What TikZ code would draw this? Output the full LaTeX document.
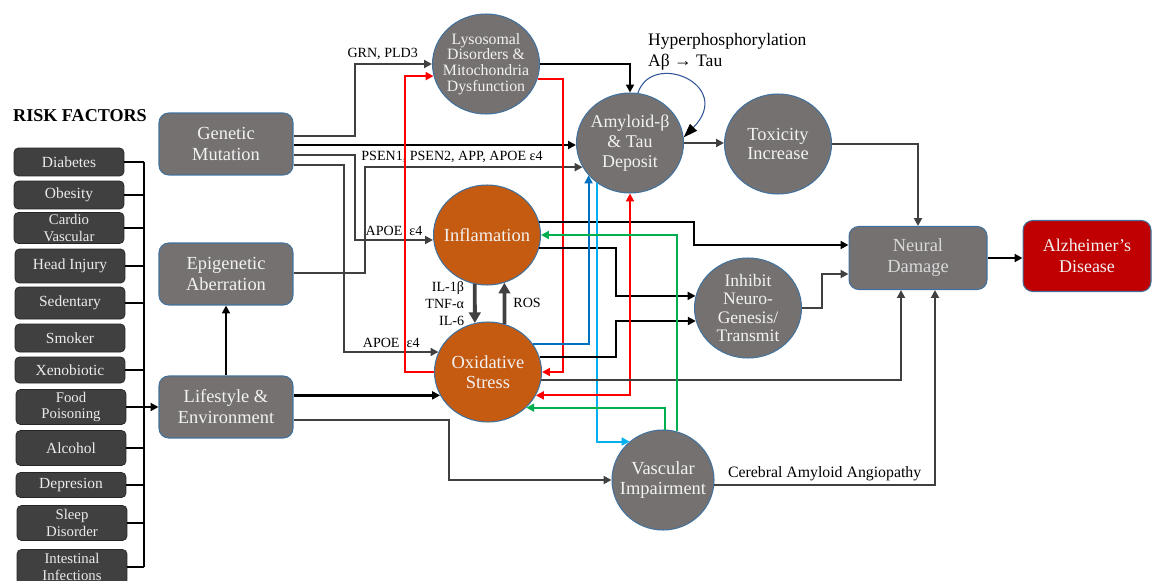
\documentclass[tikz,border=0pt]{standalone}
\usepackage{fontspec}
\setmainfont{Liberation Serif}
\usetikzlibrary{arrows.meta, calc, shapes.geometric}

\definecolor{boxgray}{RGB}{118,113,113}
\definecolor{riskgray}{RGB}{64,64,64}
\definecolor{edgeblue}{RGB}{65,113,156}
\definecolor{rust}{RGB}{197,90,17}
\definecolor{alzred}{RGB}{192,0,0}
\definecolor{linegray}{RGB}{64,64,64}
\definecolor{brightred}{RGB}{255,0,0}
\definecolor{leafgreen}{RGB}{0,176,80}
\definecolor{deepblue}{RGB}{0,112,192}
\definecolor{skyblue}{RGB}{0,176,240}
\definecolor{loopblue}{RGB}{47,85,151}

\begin{document}
\begin{tikzpicture}[x=0.02cm, y=-0.02cm,
    >={Triangle[length=4.5pt,width=4.5pt]},
    mainbox/.style={draw=edgeblue, line width=0.6pt, fill=boxgray, rounded corners=5.5pt,
        text=white!95!black, align=center, minimum width=2.68cm, minimum height=1.24cm,
        font=\fontsize{10.5}{12}\selectfont},
    blob/.style={ellipse, draw=edgeblue, line width=0.6pt, fill=boxgray, text=white!95!black,
        align=center, inner sep=-8pt, minimum width=2.14cm, minimum height=2cm,
        font=\fontsize{10.5}{11.3}\selectfont},
    risk/.style={draw=black!85, fill=riskgray, rounded corners=2.5pt, text=white!92!black,
        align=center, minimum width=2.2cm, inner sep=0pt, font=\fontsize{8.8}{9.4}\selectfont},
    pair/.style={font=\fontsize{8.4}{9.2}\selectfont},
    lbl/.style={font=\fontsize{8}{9.5}\selectfont, inner sep=2pt},
    blk/.style={draw=black, line width=1.3pt},
    gry/.style={draw=linegray, line width=1.2pt},
    redl/.style={draw=brightred, line width=1.2pt},
    greenl/.style={draw=leafgreen, line width=1.2pt},
    dblue/.style={draw=deepblue, line width=1.2pt},
    sblue/.style={draw=skyblue, line width=1.2pt},
    fatarrow/.style={draw=linegray, line width=2.2pt, -{Triangle[length=6pt,width=6.5pt]}}]
    \useasboundingbox (0,0) rectangle (1152,581);

    \node[font=\bfseries\fontsize{10.3}{12}\selectfont] (riskhead) at (80,116) {RISK FACTORS};
    \node[risk, minimum height=0.56cm] (diab) at (69,162) {Diabetes};
    \node[risk, minimum height=0.56cm] (obes) at (69,195) {Obesity};
    \node[risk, pair, minimum height=0.62cm] (card) at (69,228) {Cardio\\Vascular};
    \node[risk, minimum height=0.68cm] (head) at (70,266) {Head Injury};
    \node[risk, minimum height=0.64cm] (sede) at (70,303) {Sedentary};
    \node[risk, minimum height=0.56cm] (smok) at (70,338) {Smoker};
    \node[risk, minimum height=0.52cm] (xeno) at (70,370) {Xenobiotic};
    \node[risk, pair, minimum height=0.7cm] (food) at (71,407) {Food\\Poisoning};
    \node[risk, minimum height=0.7cm] (alco) at (71,448) {Alcohol};
    \node[risk, minimum height=0.5cm] (depr) at (71,485) {Depresion};
    \node[risk, pair, minimum height=0.7cm] (slee) at (72,523) {Sleep\\Disorder};
    \node[risk, pair, minimum height=0.7cm] (inte) at (72,567) {Intestinal\\Infections};

    \node[mainbox] (gen) at (226,144) {Genetic\\Mutation};
    \node[mainbox] (epi) at (226,274) {Epigenetic\\Aberration};
    \node[mainbox] (life) at (226,407) {Lifestyle \&\\Environment};
    \node[mainbox, minimum width=2.76cm, minimum height=1.26cm, text=white!85!black] (neur) at (918,258) {Neural\\Damage};
    \node[mainbox, fill=alzred, minimum width=2.56cm, minimum height=1.42cm, font=\fontsize{10.2}{11.6}\selectfont] (alz) at (1087,256) {Alzheimer’s\\Disease};

    \node[blob, font=\fontsize{9}{9}\selectfont] (lys) at (486,64) {Lysosomal\\Disorders \&\\Mitochondria\\Dysfunction};
    \node[blob, font=\fontsize{10.2}{11.2}\selectfont] (amy) at (630,143) {Amyloid-β\\\& Tau\\Deposit};
    \node[blob] (tox) at (778,144) {Toxicity\\Increase};
    \node[blob, fill=rust] (infl) at (487,235) {Inflamation};
    \node[blob, fill=rust] (oxi) at (488,372) {Oxidative\\Stress};
    \node[blob, font=\fontsize{10}{10.4}\selectfont] (inh) at (748,308) {Inhibit\\Neuro-\\Genesis/\\Transmit};
    \node[blob, minimum width=2.04cm] (vasc) at (663,480) {Vascular\\Impairment};

    \coordinate (bus) at (144,407);
    \draw[blk] (diab.east) -- (diab.east -| bus);
    \draw[blk] (obes.east) -- (obes.east -| bus);
    \draw[blk] (card.east) -- (card.east -| bus);
    \draw[blk] (head.east) -- (head.east -| bus);
    \draw[blk] (sede.east) -- (sede.east -| bus);
    \draw[blk] (xeno.east) -- (xeno.east -| bus);
    \draw[blk] (food.east) -- (food.east -| bus);
    \draw[blk] (alco.east) -- (alco.east -| bus);
    \draw[blk] (depr.east) -- (depr.east -| bus);
    \draw[blk] (slee.east) -- (slee.east -| bus);
    \draw[blk] (inte.east) -- (inte.east -| bus);
    \draw[blk] (diab.east -| bus) -- (inte.east -| bus);
    \draw[blk, ->] (bus) -- (bus -| life.west);
    \draw[blk, ->] (life.north) -- (epi.south);

    \draw[gry, ->] (gen.east |- 0,136) -| (355,0 |- lys.west) -- (lys.west) node[pos=0.36, above] (grn) [lbl] {GRN, PLD3};
    \draw[blk, ->] (gen.east |- 0,145) -- (amy.west |- 0,145);
    \draw[gry, ->] (gen.east |- 0,155) -| (355,240) -- (infl.west |- 0,240) node[midway, above] (apoea) [lbl] {APOE\enspace ε4};
    \draw[gry, ->] (gen.east |- 0,165) -| (344,0 |- oxi.158) -- (oxi.158) node[midway, above] (apoeb) [lbl] {APOE\enspace ε4};
    \draw[gry, ->] (epi.east |- 0,273) -| (365,0 |- amy.-153) -- (amy.-153) node[pos=0.4, above] (psen) [lbl] {PSEN1, PSEN2, APP, APOE ε4};
    \draw[blk, ->] (life.east |- oxi.-154) -- (oxi.-154);
    \draw[gry, ->] (life.east |- 0,420) -| (449,0 |- vasc.west) -- (vasc.west);

    \draw[blk, ->] (lys.east) -| (amy.north);
    \draw[redl, ->] (lys.-16) -| (563,0 |- oxi.east) -- (oxi.east);
    \draw[redl, ->] (oxi.west) -| (405,0 |- lys.-167) -- (lys.-167);

    \draw[loopblue, line width=0.6pt, -{Triangle[length=8pt,width=5.5pt,color=black]}] (amy.81) .. controls (652,50) and (735,85) .. (amy.6);
    \node[anchor=west, align=left, font=\fontsize{10}{12}\selectfont] (hyper) at (642,52) {Hyperphosphorylation\\Aβ \textbf{→} Tau};
    \draw[gry, ->] (amy.east) -- (amy.east -| tox.west);
    \draw[gry, ->] (tox.east) -| (neur.north);

    \draw[blk, ->] (infl.14) -| (694,245) -- (neur.west |- 0,245);
    \draw[blk, ->] (infl.-14) -| (616,0 |- inh.167) -- (inh.167);
    \draw[fatarrow] (infl.-104) -- (oxi.105) node[midway, left, xshift=-3pt, align=right] (ils) [lbl] {IL-1β\\TNF-α\\IL-6};
    \draw[fatarrow] (oxi.71) -- (infl.-70) node[midway, right, xshift=2pt] (ros) [lbl] {ROS};

    \draw[dblue, ->] (oxi.32) -| (amy.-142);
    \draw[sblue, ->] (amy.-130) |- (vasc.131);
    \draw[blk, ->] (oxi.16) -| (616,0 |- inh.-166) -- (inh.-166);
    \draw[redl, <->] (oxi.-26) -| (amy.south);
    \draw[gry, ->] (oxi.-9) -| (neur.south -| 901,0);

    \draw[greenl, ->] (vasc.74) |- (infl.east);
    \draw[greenl, ->] (vasc.88) |- (oxi.-43);
    \draw[gry, ->] (vasc.-6) -| (neur.south -| 935,0) node[pos=0.25, above] (caa) [lbl, font=\fontsize{9}{10}\selectfont] {Cerebral Amyloid Angiopathy};

    \draw[gry, ->] (inh.east) -| (822,274) -- (neur.west |- 0,274);
    \draw[blk, ->] (neur.east) -- (neur.east -| alz.west);
\end{tikzpicture}
\end{document}
